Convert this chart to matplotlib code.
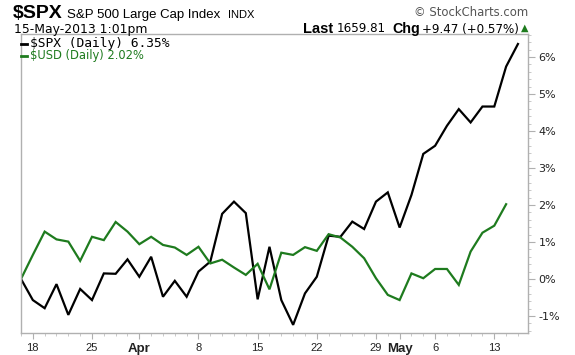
import matplotlib
matplotlib.use("Agg")
import matplotlib.pyplot as plt
from matplotlib.lines import Line2D
from matplotlib.ticker import FixedLocator, MultipleLocator, FuncFormatter

# ---- data (percent change since 15-Mar-2013, one value per trading day) ----
dates = ["Mar15", "Mar18", "Mar19", "Mar20", "Mar21", "Mar22", "Mar25", "Mar26", "Mar27", "Mar28",
         "Apr1", "Apr2", "Apr3", "Apr4", "Apr5", "Apr8", "Apr9", "Apr10", "Apr11", "Apr12",
         "Apr15", "Apr16", "Apr17", "Apr18", "Apr19", "Apr22", "Apr23", "Apr24", "Apr25", "Apr26",
         "Apr29", "Apr30", "May1", "May2", "May3", "May6", "May7", "May8", "May9", "May10",
         "May13", "May14", "May15"]
spx = [0.00, -0.57, -0.79, -0.14, -0.97, -0.27, -0.57, 0.15, 0.14, 0.53,
       0.06, 0.60, -0.48, -0.05, -0.48, 0.20, 0.47, 1.76, 2.09, 1.78,
       -0.55, 0.87, -0.57, -1.24, -0.39, 0.06, 1.17, 1.14, 1.55, 1.35,
       2.09, 2.34, 1.39, 2.27, 3.38, 3.60, 4.14, 4.59, 4.23, 4.66,
       4.66, 5.74, 6.35]
usd = [0.00, 0.65, 1.28, 1.07, 1.01, 0.49, 1.14, 1.05, 1.54, 1.28,
       0.94, 1.14, 0.92, 0.85, 0.65, 0.87, 0.42, 0.52, 0.31, 0.11,
       0.41, -0.28, 0.71, 0.65, 0.86, 0.76, 1.21, 1.12, 0.87, 0.56,
       0.02, -0.43, -0.57, 0.15, 0.02, 0.27, 0.27, -0.16, 0.74, 1.25,
       1.44, 2.02]
xtick_pos = [1, 6, 10, 15, 20, 25, 30, 32, 35, 40]
xtick_labels = ["18", "25", "Apr", "8", "15", "22", "29", "May", "6", "13"]
ytick_vals = [-1, 0, 1, 2, 3, 4, 5, 6]

W, H = 575, 355
fig = plt.figure(figsize=(W / 100, H / 100), dpi=100)
fig.patch.set_facecolor("white")
FONT = "Liberation Sans"
WIDE = "DejaVu Sans"

def px(x, y):
    return x / W, 1 - y / H

l, r, t, b = 21, 528, 34, 333
ax = fig.add_axes([l / W, 1 - b / H, (r - l) / W, (b - t) / H])

GREEN = "#1e7b1e"
ax.plot(range(len(spx)), spx, color="black", lw=1.6, solid_joinstyle="miter")
ax.plot(range(len(usd)), usd, color=GREEN, lw=1.6, solid_joinstyle="miter")

ax.set_xlim(0, 42.85)
ax.set_ylim(-1.46, 6.62)

for s in ax.spines.values():
    s.set_color("#b0b0b0")
    s.set_linewidth(1.0)

ax.yaxis.tick_right()
ax.yaxis.set_major_locator(FixedLocator(ytick_vals))
ax.yaxis.set_minor_locator(MultipleLocator(0.2))
ax.yaxis.set_major_formatter(FuncFormatter(lambda v, p: f"{int(round(v))}%"))
ax.tick_params(axis="y", which="major", length=5, color="#b0b0b0", labelsize=8,
               labelcolor="#222222", pad=2.5)
ax.tick_params(axis="y", which="minor", length=2.5, color="#c0c0c0")
for lab in ax.get_yticklabels():
    lab.set_fontfamily(WIDE)

ax.xaxis.set_major_locator(FixedLocator(xtick_pos))
ax.xaxis.set_minor_locator(MultipleLocator(1))
ax.set_xticklabels(xtick_labels)
ax.tick_params(axis="x", which="major", length=4, color="#b0b0b0", labelsize=8,
               labelcolor="#222222", pad=3)
ax.tick_params(axis="x", which="minor", length=2.5, color="#c0c0c0")
for lab in ax.get_xticklabels():
    lab.set_fontfamily(FONT)
    if lab.get_text() in ("Apr", "May"):
        lab.set_fontweight("bold")
        lab.set_fontsize(9.5)

# ---- header ----
fig.text(*px(13, 14), "$SPX", fontsize=14, fontweight="bold", family=FONT, va="center", ha="left")
fig.text(*px(67, 15), "S&P 500 Large Cap Index", fontsize=9.5, family=FONT, va="center", ha="left")
fig.text(*px(228, 15), "INDX", fontsize=8, family=FONT, va="center", ha="left")
fig.text(*px(14, 29), "15-May-2013 1:01pm", fontsize=8.9, family=WIDE, va="center", ha="left")

fig.text(*px(528, 13), "© StockCharts.com", fontsize=8.4, family=WIDE, color="#555555",
         va="center", ha="right")
fig.text(*px(303, 29), "Last", fontsize=10.5, fontweight="bold", family=FONT, va="center", ha="left")
fig.text(*px(337, 29), "1659.81", fontsize=8.6, family=WIDE, va="center", ha="left")
fig.text(*px(392, 29), "Chg", fontsize=10.3, fontweight="bold", family=FONT, va="center", ha="left")
fig.text(*px(422, 29), "+9.47 (+0.57%)", fontsize=8.6, family=WIDE, va="center", ha="left")
fig.text(*px(521, 28), "▲", fontsize=7, family=WIDE, color=GREEN, va="center", ha="left")

# ---- legend ----
for yy, col in ((44, "black"), (56, GREEN)):
    x0, y0 = px(21, yy)
    x1, _ = px(27, yy)
    fig.add_artist(Line2D([x0, x1], [y0, y0], transform=fig.transFigure, color=col, lw=2))
fig.text(*px(30, 44), "$SPX (Daily) 6.35%", fontsize=9.3, family="DejaVu Sans Mono", color="black",
         va="center", ha="left")
fig.text(*px(30, 56), "$USD (Daily) 2.02%", fontsize=8.3, family=WIDE, color=GREEN,
         va="center", ha="left")

fig.savefig("out.png", dpi=100, facecolor="white")
